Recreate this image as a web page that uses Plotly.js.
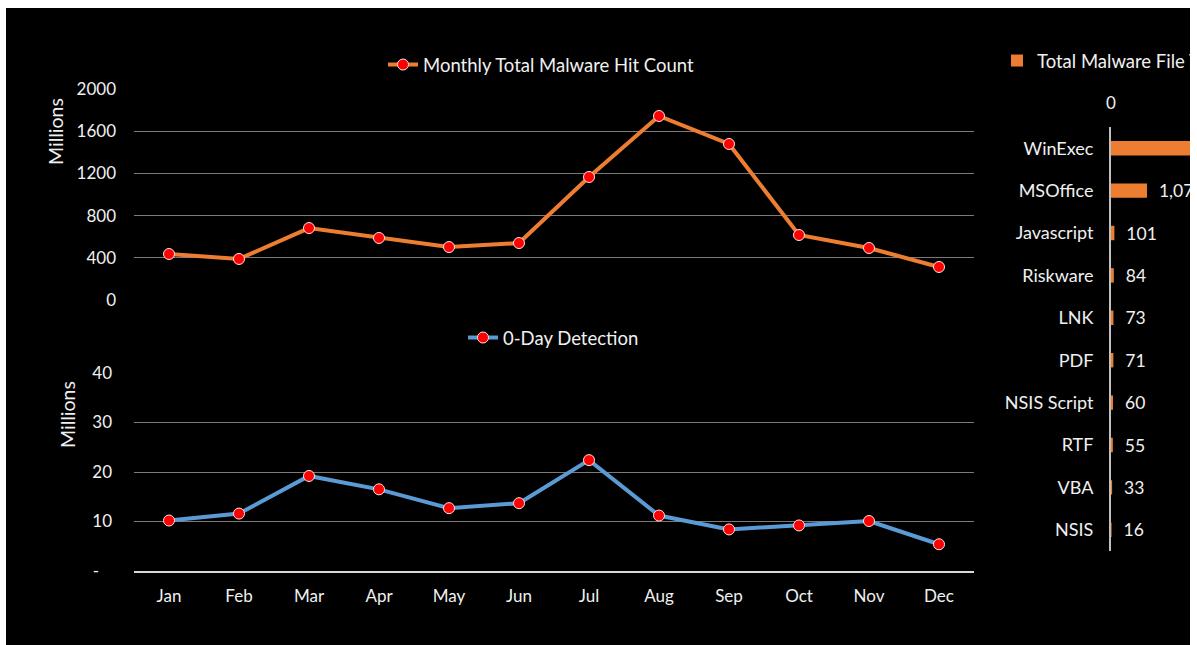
<!DOCTYPE html>
<html>
<head>
<meta charset="utf-8">
<script src="https://cdn.plot.ly/plotly-3.0.1.min.js"></script>
<style>
  html, body { margin: 0; padding: 0; background: #ffffff; }
  #wrap { position: absolute; left: 6px; top: 8px; width: 1184px; height: 637px; overflow: hidden; background: #000000; }
  #chart { position: absolute; left: 0; top: 0; width: 1400px; height: 637px; }
</style>
</head>
<body>
<div id="wrap"><div id="chart"></div></div>
<script>
// ---- data ----
const months = ["Jan","Feb","Mar","Apr","May","Jun","Jul","Aug","Sep","Oct","Nov","Dec"];
const monthlyHits = [436, 389, 682, 588, 502, 540, 1166, 1744, 1479, 616, 493, 313];   // millions
const zeroDay = [10.2, 11.6, 19.2, 16.5, 12.7, 13.7, 22.4, 11.2, 8.4, 9.2, 10.1, 5.4]; // millions
const fileTypes = ["WinExec","MSOffice","Javascript","Riskware","LNK","PDF","NSIS Script","RTF","VBA","NSIS"];
const fileCounts = [4900, 1074, 101, 84, 73, 71, 60, 55, 33, 16];
const hitTicks = [0, 400, 800, 1200, 1600, 2000];
const zeroTicks = [0, 10, 20, 30, 40];
const zeroTickText = ["-\u00a0\u00a0\u00a0", "10", "20", "30", "40"];
const yTitle = "Millions";

// ---- style ----
const W = 1400, H = 637;
const FONT = "Lato, 'Open Sans', sans-serif";
const TXT = "#f0f0f0";
const GRID = "#7a7a7a";
const ORANGE = "#ED7D31", BLUE = "#5B9BD5";

const marker = { color: "#ff0000", size: 11, line: { color: "#ffe0e0", width: 1 } };

const traces = [
  { type: "scatter", mode: "lines+markers", x: months, y: monthlyHits,
    name: "Monthly Total Malware Hit Count", xaxis: "x", yaxis: "y",
    line: { color: ORANGE, width: 4 }, marker: marker, legend: "legend", showlegend: true },
  { type: "scatter", mode: "lines+markers", x: months, y: zeroDay,
    name: "0-Day Detection", xaxis: "x2", yaxis: "y2",
    line: { color: BLUE, width: 4 }, marker: marker, legend: "legend2", showlegend: true },
  { type: "bar", orientation: "h", x: fileCounts, y: fileTypes,
    name: "Total Malware File Type", xaxis: "x3", yaxis: "y3",
    marker: { color: ORANGE }, width: 0.34,
    texttemplate: "\u00a0\u00a0%{x:,}", textposition: "outside", cliponaxis: false,
    constraintext: "none",
    textfont: { family: FONT, size: 17.5, color: TXT },
    legend: "legend3", showlegend: true }
];

const xdom = [128 / W, 968 / W];
const legendFont = { family: FONT, size: 18.5, color: TXT };

const layout = {
  width: W, height: H,
  paper_bgcolor: "#000000", plot_bgcolor: "#000000",
  margin: { l: 0, r: 0, t: 0, b: 0 },
  font: { family: FONT, size: 17, color: TXT },
  xaxis: { domain: xdom, anchor: "y", type: "category", showticklabels: false,
           showgrid: false, zeroline: false, showline: false, range: [-0.5, 11.5] },
  yaxis: { domain: [1 - 292 / H, 1 - 81 / H], anchor: "x", range: [0, 2000],
           tickvals: hitTicks, ticktext: hitTicks.map(String),
           showgrid: true, gridcolor: GRID, gridwidth: 1, zeroline: false, showline: false,
           ticks: "", ticklabelstandoff: 17,
           tickfont: { family: FONT, size: 17, color: TXT } },
  xaxis2: { domain: xdom, anchor: "y2", type: "category", range: [-0.5, 11.5],
            showgrid: false, zeroline: false, showline: true, linecolor: "#d9d9d9", linewidth: 2,
            ticks: "", ticklabelstandoff: 9,
            tickfont: { family: FONT, size: 17, color: TXT } },
  yaxis2: { domain: [1 - 563 / H, 1 - 365 / H], anchor: "x2", range: [0, 40],
            tickvals: zeroTicks, ticktext: zeroTickText,
            showgrid: true, gridcolor: GRID, gridwidth: 1, zeroline: false, showline: false,
            ticks: "", ticklabelstandoff: 21,
            tickfont: { family: FONT, size: 17, color: TXT } },
  xaxis3: { domain: [1105 / W, 1], anchor: "y3", side: "top", range: [0, 8800],
            tickvals: [0], ticktext: ["0"], showgrid: false, zeroline: false, showline: false,
            ticks: "", ticklabelstandoff: 14,
            tickfont: { family: FONT, size: 17, color: TXT } },
  yaxis3: { domain: [1 - 543 / H, 1 - 119 / H], anchor: "x3", type: "category",
            autorange: "reversed", showgrid: false, zeroline: false,
            showline: true, linecolor: "#bfbfbf", linewidth: 2,
            ticks: "", ticklabelstandoff: 12,
            tickfont: { family: FONT, size: 18, color: TXT } },
  annotations: [
    { text: yTitle, xref: "paper", yref: "paper", x: 50 / W, y: 1 - 124 / H,
      xanchor: "center", yanchor: "middle", textangle: -90, showarrow: false,
      font: { family: FONT, size: 19.5, color: TXT } },
    { text: yTitle, xref: "paper", yref: "paper", x: 61 / W, y: 1 - 407 / H,
      xanchor: "center", yanchor: "middle", textangle: -90, showarrow: false,
      font: { family: FONT, size: 19.5, color: TXT } }
  ],
  legend: { x: 377 / W, xanchor: "left", y: 1 - 57 / H, yanchor: "middle",
            bgcolor: "rgba(0,0,0,0)", borderwidth: 0, font: legendFont, orientation: "h" },
  legend2: { x: 457 / W, xanchor: "left", y: 1 - 330 / H, yanchor: "middle",
             bgcolor: "rgba(0,0,0,0)", borderwidth: 0, font: legendFont, orientation: "h" },
  legend3: { x: 991 / W, xanchor: "left", y: 1 - 53 / H, yanchor: "middle",
             bgcolor: "rgba(0,0,0,0)", borderwidth: 0, font: legendFont, orientation: "h" }
};

Plotly.newPlot("chart", traces, layout, { staticPlot: true, displayModeBar: false });
</script>
</body>
</html>
